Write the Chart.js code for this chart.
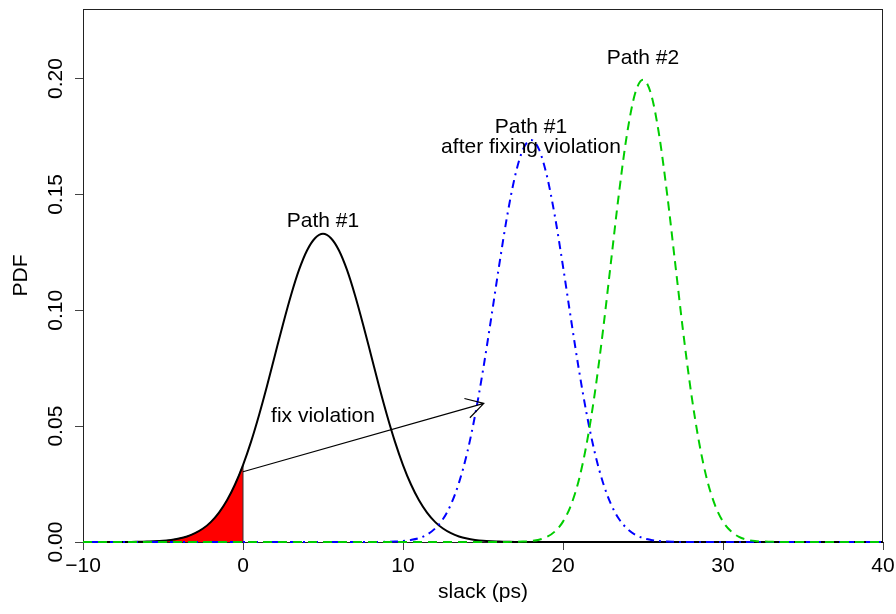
<!DOCTYPE html>
<html>
<head>
<meta charset="utf-8">
<title>slack PDF</title>
<script src="https://cdn.jsdelivr.net/npm/chart.js@4/dist/chart.umd.min.js"></script>
<style>
	html, body { margin: 0; padding: 0; background: #fff; }
	#pdfChart { display: block; }
</style>
</head>
<body>
<canvas id="pdfChart" width="896" height="614"></canvas>
<script>
// slack grid (ps)
var slack = [
	-10, -9.5, -9, -8.5, -8, -7.5, -7, -6.5, -6, -5.5, -5, -4.5, -4, -3.5, -3, -2.5, -2, -1.5, -1, -0.5,
	0, 0.5, 1, 1.5, 2, 2.5, 3, 3.5, 4, 4.5, 5, 5.5, 6, 6.5, 7, 7.5, 8, 8.5, 9, 9.5,
	10, 10.5, 11, 11.5, 12, 12.5, 13, 13.5, 14, 14.5, 15, 15.5, 16, 16.5, 17, 17.5, 18, 18.5, 19, 19.5,
	20, 20.5, 21, 21.5, 22, 22.5, 23, 23.5, 24, 24.5, 25, 25.5, 26, 26.5, 27, 27.5, 28, 28.5, 29, 29.5,
	30, 30.5, 31, 31.5, 32, 32.5, 33, 33.5, 34, 34.5, 35, 35.5, 36, 36.5, 37, 37.5, 38, 38.5, 39, 39.5,
	40
];

// Path #1
var path1 = [
	0, 0, 0, 0, 0, 0, 0, .0001, .0002, .0003, .0005, .0009, .0015, .0024, .0038, .0058, .0087, .0127, .0180, .0248,
	.0332, .0432, .0547, .0673, .0807, .0940, .1065, .1174, .1258, .1311, .1330, .1311, .1258, .1174, .1065, .0940, .0807, .0673, .0547, .0432,
	.0332, .0248, .0180, .0127, .0087, .0058, .0038, .0024, .0015, .0009, .0005, .0003, .0002, .0001, 0, 0, 0, 0, 0, 0,
	0, 0, 0, 0, 0, 0, 0, 0, 0, 0, 0, 0, 0, 0, 0, 0, 0, 0, 0, 0,
	0, 0, 0, 0, 0, 0, 0, 0, 0, 0, 0, 0, 0, 0, 0, 0, 0, 0, 0, 0,
	0
];

// Path #1 after fixing violation
var path1Fixed = [
	0, 0, 0, 0, 0, 0, 0, 0, 0, 0, 0, 0, 0, 0, 0, 0, 0, 0, 0, 0,
	0, 0, 0, 0, 0, 0, 0, 0, 0, 0, 0, 0, 0, 0, 0, 0, 0, 0, .0001, .0002,
	.0004, .0009, .0017, .0032, .0058, .0099, .0163, .0256, .0382, .0545, .0741, .0961, .1189, .1403, .1578, .1694, .1735, .1694, .1578, .1403,
	.1189, .0961, .0741, .0545, .0382, .0256, .0163, .0099, .0058, .0032, .0017, .0009, .0004, .0002, .0001, 0, 0, 0, 0, 0,
	0, 0, 0, 0, 0, 0, 0, 0, 0, 0, 0, 0, 0, 0, 0, 0, 0, 0, 0, 0,
	0
];

// Path #2
var path2 = [
	0, 0, 0, 0, 0, 0, 0, 0, 0, 0, 0, 0, 0, 0, 0, 0, 0, 0, 0, 0,
	0, 0, 0, 0, 0, 0, 0, 0, 0, 0, 0, 0, 0, 0, 0, 0, 0, 0, 0, 0,
	0, 0, 0, 0, 0, 0, 0, 0, 0, 0, 0, 0, 0, 0, .0001, .0002, .0004, .0010, .0022, .0046,
	.0088, .0159, .0270, .0432, .0648, .0913, .1210, .1506, .1760, .1934, .1995, .1934, .1760, .1506, .1210, .0913, .0648, .0432, .0270, .0159,
	.0088, .0046, .0022, .0010, .0004, .0002, .0001, 0, 0, 0, 0, 0, 0, 0, 0, 0, 0, 0, 0, 0,
	0
];

// text notes and the "fix violation" arrow, in data units
var noteText = ['Path #1', 'Path #1', 'after fixing violation', 'Path #2', 'fix violation'];
var noteX = [5, 18, 18, 25, 5];
var noteY = [0.136, 0.1765, 0.1679, 0.2063, 0.0519];
var arrowFrom = [0, 0.0303];
var arrowTo = [15.05, 0.0598];

var FONT = '"Liberation Sans", Arial, Helvetica, sans-serif';
Chart.defaults.font.family = FONT;
Chart.defaults.font.size = 21;
Chart.defaults.color = '#000';

function points(xs, ys) {
	return xs.map(function (x, i) { return {x: x, y: ys[i]}; });
}

var zeroAt = slack.indexOf(0);

// frame round the plot region, like R's box()
var boxPlugin = {
	id: 'box',
	beforeDatasetsDraw: function (chart) {
		var a = chart.chartArea, ctx = chart.ctx;
		ctx.save();
		ctx.strokeStyle = '#222';
		ctx.lineWidth = 1;
		ctx.strokeRect(Math.round(a.left) + 0.5, Math.round(a.top) + 0.5, Math.round(a.right - a.left) - 1, Math.round(a.bottom - a.top));
		ctx.restore();
	}
};

var notesPlugin = {
	id: 'notes',
	afterDatasetsDraw: function (chart) {
		var ctx = chart.ctx, xs = chart.scales.x, ys = chart.scales.y;
		ctx.save();
		ctx.font = '21px ' + FONT;
		ctx.fillStyle = '#000';
		ctx.textAlign = 'center';
		ctx.textBaseline = 'alphabetic';
		noteText.forEach(function (t, i) {
			ctx.fillText(t, xs.getPixelForValue(noteX[i]), ys.getPixelForValue(noteY[i]));
		});

		// arrow
		var x0 = xs.getPixelForValue(arrowFrom[0]), y0 = ys.getPixelForValue(arrowFrom[1]);
		var x1 = xs.getPixelForValue(arrowTo[0]), y1 = ys.getPixelForValue(arrowTo[1]);
		var back = Math.atan2(y0 - y1, x0 - x1), len = 20, spread = Math.PI / 6;
		ctx.strokeStyle = '#000';
		ctx.lineWidth = 1.2;
		ctx.beginPath();
		ctx.moveTo(x0, y0);
		ctx.lineTo(x1, y1);
		ctx.moveTo(x1 + len * Math.cos(back + spread), y1 + len * Math.sin(back + spread));
		ctx.lineTo(x1, y1);
		ctx.lineTo(x1 + len * Math.cos(back - spread), y1 + len * Math.sin(back - spread));
		ctx.stroke();
		ctx.restore();
	}
};

var ctx = document.getElementById('pdfChart').getContext('2d');
var pdfChart = new Chart(ctx, {
	type: 'line',
	data: {
		datasets: [
			{
				label: 'Path #2',
				data: points(slack, path2),
				borderColor: '#00CD00',
				borderWidth: 2,
				borderDash: [9, 6],
				clip: false,
				order: 0
			},
			{
				label: 'Path #1 after fixing violation',
				data: points(slack, path1Fixed),
				borderColor: '#0000FF',
				borderWidth: 2,
				borderDash: [2, 5, 8, 5],
				clip: false,
				order: 1
			},
			{
				label: 'Path #1',
				data: points(slack, path1),
				borderColor: '#000',
				borderWidth: 2,
				clip: false,
				order: 2
			},
			{
				label: 'edge',
				data: [{x: 0, y: 0}, {x: 0, y: path1[zeroAt]}],
				borderColor: '#333',
				borderWidth: 1,
				cubicInterpolationMode: 'default',
				tension: 0,
				order: 3
			},
			{
				label: 'violation',
				data: points(slack.slice(0, zeroAt + 1), path1.slice(0, zeroAt + 1)),
				borderColor: '#000',
				borderWidth: 1,
				backgroundColor: '#FF0000',
				fill: 'origin',
				order: 4
			}
		]
	},
	options: {
		responsive: false,
		animation: false,
		events: [],
		elements: {
			point: {radius: 0},
			line: {cubicInterpolationMode: 'monotone', borderCapStyle: 'butt'}
		},
		layout: {padding: {left: 0, top: 9, right: 13, bottom: 0}},
		plugins: {
			legend: {display: false},
			tooltip: {enabled: false}
		},
		scales: {
			x: {
				type: 'linear',
				min: -10,
				max: 40,
				grid: {drawOnChartArea: false, drawTicks: true, tickLength: 8, color: '#444'},
				border: {display: true, color: '#222'},
				ticks: {
					stepSize: 10,
					padding: 4,
					maxRotation: 0,
					autoSkip: false,
					callback: function (v) { return v < 0 ? '\u2212' + Math.abs(v) : String(v); }
				},
				title: {display: true, text: 'slack (ps)', padding: {top: 0, bottom: 9}},
				afterFit: function (s) { s.height = 72; s.paddingLeft = 0; s.paddingRight = 0; }
			},
			y: {
				type: 'linear',
				min: 0,
				max: 0.23,
				grid: {drawOnChartArea: false, drawTicks: true, tickLength: 8, color: '#444'},
				border: {display: true, color: '#222'},
				ticks: {
					stepSize: 0.05,
					includeBounds: false,
					minRotation: 90,
					maxRotation: 90,
					crossAlign: 'center',
					padding: -1.5,
					callback: function (v) { return v.toFixed(2); }
				},
				title: {display: true, text: 'PDF', padding: {top: 9, bottom: 0}},
				afterFit: function (s) { s.width = 83; s.paddingTop = 0; s.paddingBottom = 0; }
			}
		}
	},
	plugins: [boxPlugin, notesPlugin]
});
</script>
</body>
</html>
